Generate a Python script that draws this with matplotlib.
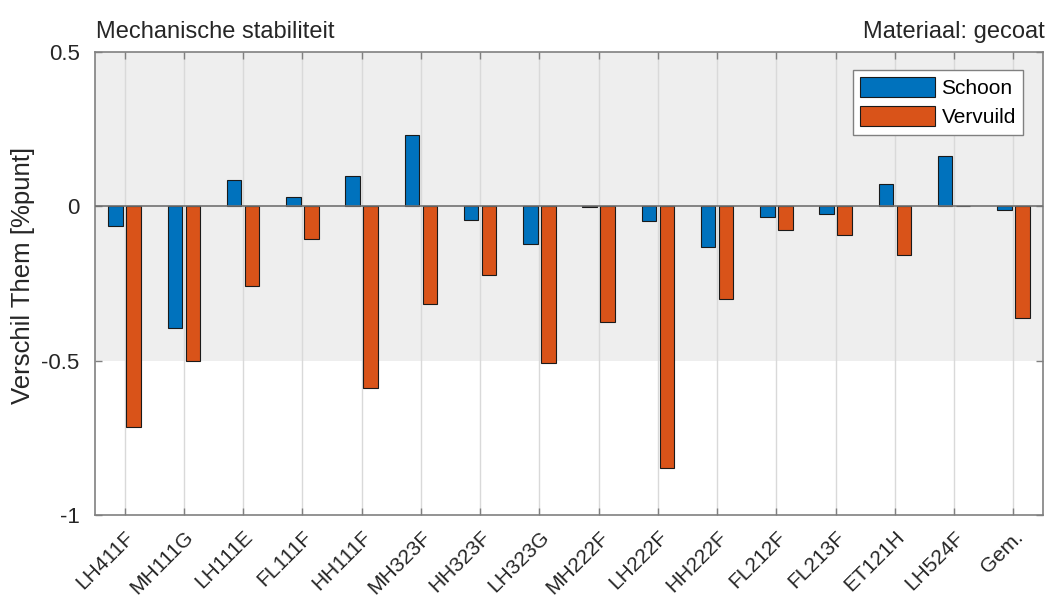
import numpy as np
import matplotlib.pyplot as plt

plt.rcParams['font.family'] = ['Liberation Sans', 'DejaVu Sans']

categories = ['LH411F', 'MH111G', 'LH111E', 'FL111F', 'HH111F', 'MH323F', 'HH323F', 'LH323G',
              'MH222F', 'LH222F', 'HH222F', 'FL212F', 'FL213F', 'ET121H', 'LH524F', 'Gem.']
schoon = [-0.065, -0.393, 0.086, 0.030, 0.098, 0.230, -0.043, -0.121,
          -0.003, -0.047, -0.132, -0.035, -0.024, 0.073, 0.162, -0.013]
vervuild = [-0.714, -0.500, -0.258, -0.107, -0.587, -0.317, -0.221, -0.506,
            -0.376, -0.847, -0.301, -0.078, -0.092, -0.159, 0.0, -0.363]
yticks = [-1, -0.5, 0, 0.5]
yticklabels = ['-1', '-0.5', '0', '0.5']

blue = '#0072BD'
orange = '#D95319'
axis_grey = '#808080'

fig = plt.figure(figsize=(10.47, 6.10), dpi=100)
ax = fig.add_axes([95 / 1047, 1 - 515 / 610, (1043 - 95) / 1047, (515 - 52) / 610])

x = np.arange(1, len(categories) + 1)
off, w = 0.15, 0.245

# shaded band and vertical grid
ax.axhspan(-0.5, 0.5, color='#eeeeee', zorder=0, lw=0)
for xi in x:
    ax.axvline(xi, color='#d9d9d9', lw=1.0, zorder=0.5)

ax.bar(x - off, schoon, w, color=blue, edgecolor='#1a1a1a', lw=0.8, label='Schoon', zorder=2)
ax.bar(x + off, vervuild, w, color=orange, edgecolor='#1a1a1a', lw=0.8, label='Vervuild', zorder=2)
ax.axhline(0, color='#707070', lw=1.2, zorder=3)

ax.set_xlim(0.5, 16.5)
ax.set_ylim(-1, 0.5)
ax.set_xticks(x)
ax.set_xticklabels(categories, rotation=45, ha='right', rotation_mode='anchor', fontsize=15)
ax.set_yticks(yticks)
ax.set_yticklabels(yticklabels, fontsize=16)
ax.tick_params(direction='in', length=5, width=1, colors=axis_grey, labelcolor='#262626',
               top=True, right=True, pad=9)
ax.tick_params(axis='y', pad=11)
for s in ax.spines.values():
    s.set_color(axis_grey)
    s.set_linewidth(1.2)
ax.set_ylabel('Verschil Them [%punt]', fontsize=18.5, color='#262626')
ax.yaxis.set_label_coords(-0.063, 0.518)

fig.text(96 / 1047, 1 - 38 / 610, 'Mechanische stabiliteit', fontsize=17, color='#262626')
fig.text(1045 / 1047, 1 - 38 / 610, 'Materiaal: gecoat', fontsize=17, color='#262626', ha='right')

leg = ax.legend(loc='upper right', bbox_to_anchor=(0.979, 0.961), borderaxespad=0, fontsize=15,
                handlelength=3.6, handleheight=1.05, handletextpad=0.3, borderpad=0.35,
                labelspacing=0.4, fancybox=False, framealpha=1, edgecolor=axis_grey)
leg.get_frame().set_linewidth(1.0)

fig.savefig('out.png', dpi=100)
